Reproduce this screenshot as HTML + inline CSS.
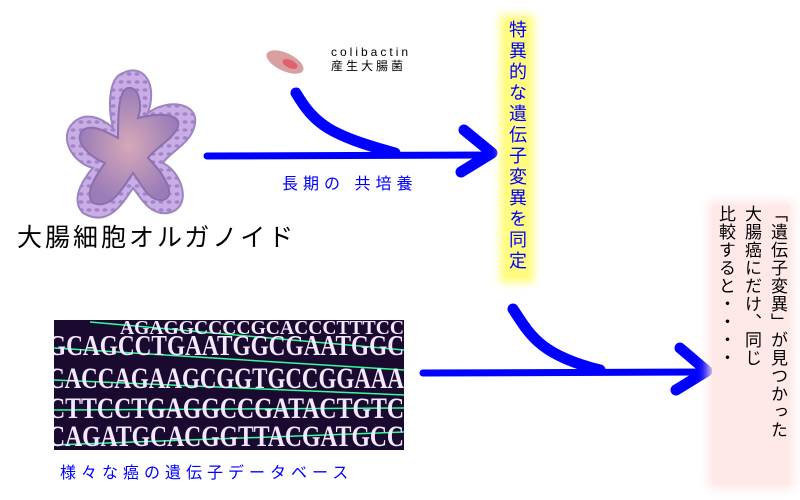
<!DOCTYPE html>
<html><head><meta charset="utf-8"><style>
html,body{margin:0;padding:0;background:#fff;}
#c{position:relative;width:800px;height:500px;overflow:hidden;font-family:"Liberation Sans","Noto Sans CJK JP",sans-serif;}
.t{position:absolute;white-space:nowrap;}
.v{position:absolute;writing-mode:vertical-rl;font-size:18px;line-height:26px;}
</style></head><body><div id="c">
<svg width="800" height="500" style="position:absolute;left:0;top:0">
<defs>
<radialGradient id="og" cx="50%" cy="50%" r="50%"><stop offset="0" stop-color="#d6a8b8"/><stop offset="1" stop-color="#9a7db8"/></radialGradient>
<pattern id="dots" width="8" height="8" patternUnits="userSpaceOnUse"><rect width="8" height="8" fill="#c9aee6"/><ellipse cx="4" cy="4" rx="2.5" ry="1.8" fill="#a383c8"/></pattern>
</defs>
<g transform="translate(133,158)">
<path d="M-10,-85 C10,-95 25,-75 15,-45 C35,-60 65,-55 62,-35 C60,-15 35,-5 30,5 C50,15 60,50 35,55 C15,58 5,35 0,30 C-10,45 -25,70 -50,55 C-65,40 -45,15 -40,10 C-60,5 -75,-20 -60,-35 C-45,-50 -25,-35 -20,-30 C-25,-50 -25,-80 -10,-85Z" fill="url(#dots)" stroke="#9b84bf" stroke-width="2"/>
<path d="M-5,-70 C5,-72 10,-55 5,-40 C25,-45 48,-45 45,-32 C42,-20 22,-10 15,0 C30,15 45,38 30,42 C15,44 8,25 0,15 C-10,30 -22,52 -40,45 C-50,35 -35,15 -28,5 C-45,-2 -60,-18 -50,-28 C-40,-35 -25,-25 -15,-20 C-15,-40 -15,-68 -5,-70Z" fill="url(#og)" stroke="#8a70ad" stroke-width="2"/>
</g>
<ellipse cx="285" cy="62" rx="20" ry="9" fill="#d8a0a0" transform="rotate(25 285 62)"/>
<ellipse cx="290" cy="64" rx="8" ry="4" fill="#e06070" transform="rotate(25 290 64)"/>
<rect x="54" y="320" width="350" height="130" fill="#1a0a30"/>
<g stroke="#3f9" stroke-width="1.5" fill="none">
<line x1="54" y1="348" x2="404" y2="370"/><line x1="54" y1="380" x2="404" y2="395"/><line x1="54" y1="410" x2="404" y2="408"/><line x1="54" y1="445" x2="404" y2="432"/><line x1="90" y1="322" x2="404" y2="350"/>
</g>
<svg x="54" y="320" width="350" height="130">
<g font-family="Liberation Serif,serif" fill="#f4e8ff" font-weight="bold">
<text x="-6" y="35" font-size="28" textLength="356" lengthAdjust="spacingAndGlyphs">GCAGCCTGAATGGCGAATGGC</text>
<text x="-6" y="68" font-size="30" textLength="356" lengthAdjust="spacingAndGlyphs">CACCAGAAGCGGTGCCGGAAA</text>
<text x="-6" y="98" font-size="30" textLength="356" lengthAdjust="spacingAndGlyphs">CTTCCTGAGGCCGATACTGTC</text>
<text x="-6" y="126" font-size="30" textLength="356" lengthAdjust="spacingAndGlyphs">CAGATGCACGGTTACGATGCC</text>
<text x="66" y="14" font-size="20" textLength="284" lengthAdjust="spacingAndGlyphs">AGAGGCCCCGCACCCTTTCC</text>
</g>
</svg>
<g stroke="#0000ff" fill="none" stroke-linecap="round" stroke-linejoin="round">
<line x1="207" y1="156" x2="492" y2="155" stroke-width="7"/>
<path d="M296,93 C315,125 330,135 395,153" stroke-width="11"/>
<path d="M464,130 L492,153 L461,172" stroke-width="11"/>
<line x1="423" y1="373" x2="705" y2="372" stroke-width="7"/>
<path d="M513,309 C530,335 540,355 600,370" stroke-width="11"/>
<path d="M680,348 L707,371 L676,390" stroke-width="11"/>
</g>
</svg>
<div class="t" style="left:331px;top:45px;font-size:12px;letter-spacing:3px;line-height:14px">colibactin<br>産生大腸菌</div>
<div class="t" style="left:17px;top:218px;font-size:25px;letter-spacing:3px;color:#000">大腸細胞オルガノイド</div>
<div class="t" style="left:282px;top:170px;font-size:16px;letter-spacing:5px;color:#0000ff">長期の 共培養</div>
<div class="t" style="left:60px;top:459px;font-size:16px;letter-spacing:5px;color:#0000ff">様々な癌の遺伝子データベース</div>
<div class="v" style="left:505px;top:20px;width:24px;height:258px;color:#0000ff;font-size:18px;line-height:24px;letter-spacing:3px;background:#fffc80;box-shadow:0 0 8px 5px #fffc80">特異的な遺伝子変異を同定</div>
<div class="v" style="left:712px;top:205px;height:280px;color:#000;font-size:17px;line-height:26px;letter-spacing:1px;background:#ffe8e8;box-shadow:0 0 10px 4px #ffe8e8">「遺伝子変異」が見つかった<br>大腸癌にだけ、同じ<br>比較すると・・・・</div>
</div></body></html>
